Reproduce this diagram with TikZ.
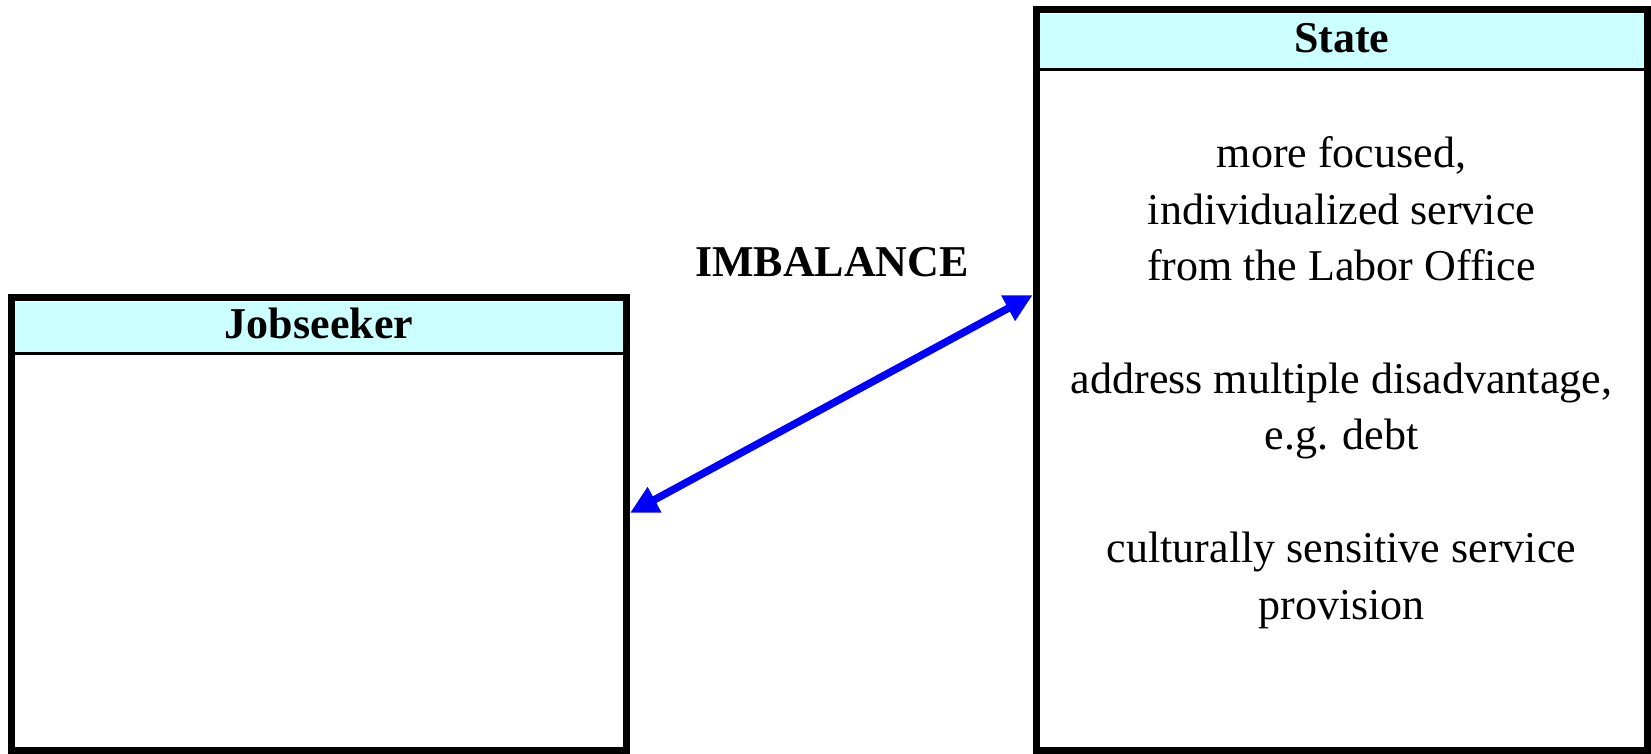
\documentclass[tikz,border=0pt]{standalone}
\usepackage{fontspec}
\setmainfont{Liberation Serif}
\usetikzlibrary{arrows.meta}
\definecolor{hdrcyan}{HTML}{CCFFFF}
\begin{document}
\begin{tikzpicture}[x=1pt,y=-1pt,
  box/.style={draw=black, line width=7.3pt, inner sep=0pt, fill=none},
  hdr/.style={fill=hdrcyan, inner sep=0pt, text depth=8pt, font=\fontsize{44}{52}\selectfont\bfseries},
  hdrline/.style={draw=black, line width=3pt},
  body/.style={align=center, inner sep=0pt, font=\fontsize{44}{56.4}\selectfont},
  link/.style={draw=blue, line width=7.5pt, {Triangle[length=28pt,width=27pt]}-{Triangle[length=28pt,width=27pt]}}
]
\useasboundingbox (0,0) rectangle (1651,754);
% headers (fill)
\node[hdr, minimum width=607.4pt, minimum height=51pt] (jsh) at (319,327.5) {Jobseeker};
\node[hdr, minimum width=603.6pt, minimum height=55pt] (sth) at (1341.85,41.5) {State};
\draw[hdrline] (jsh.south west) -- (jsh.south east);
\draw[hdrline] (sth.south west) -- (sth.south east);
% boxes
\node[box, minimum width=614.6pt, minimum height=452.6pt] (js) at (319,524) {};
\node[box, minimum width=610.9pt, minimum height=740.6pt] (st) at (1341.85,380) {};
% body text
\node[body, anchor=base] (sttext) at (1341.5,619) {more focused,\\ individualized service\\ from the Labor Office\\[56.4pt] address multiple disadvantage,\\ e.g. debt\\[56.4pt] culturally sensitive service\\ provision};
% label
\node[inner sep=0pt, anchor=base, font=\fontsize{44}{52}\selectfont\bfseries] (imb) at (832,276) {IMBALANCE};
% arrow
\coordinate (ya) at (0,513);
\coordinate (yb) at (0,295);
\draw[link] (js.east |- ya) -- (st.west |- yb);
\end{tikzpicture}
\end{document}
